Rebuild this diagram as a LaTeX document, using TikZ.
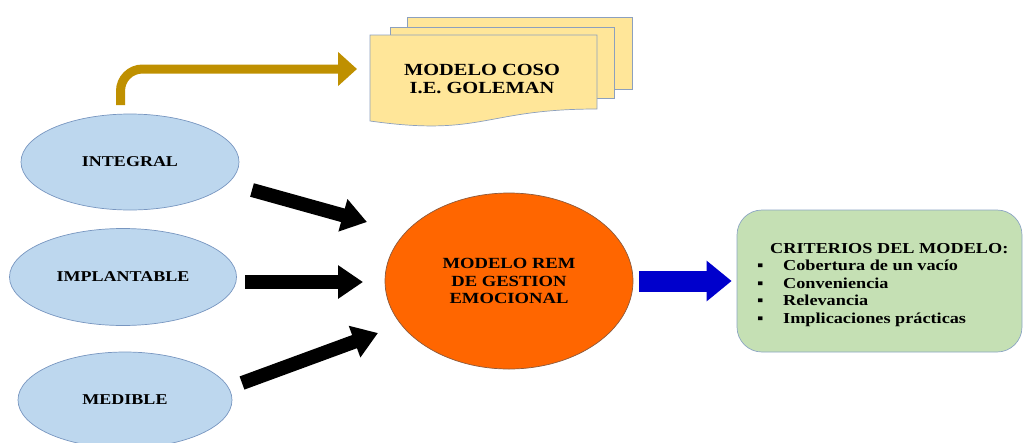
\documentclass[tikz,border=0pt]{standalone}
\usepackage{fontspec}
\setmainfont{Liberation Serif}[FakeStretch=1.2]
\usetikzlibrary{shapes.geometric,arrows.meta}

\definecolor{ovalfill}{RGB}{189,215,238}
\definecolor{ovalline}{RGB}{120,150,192}
\definecolor{remfill}{RGB}{255,102,0}
\definecolor{remline}{RGB}{140,90,60}
\definecolor{docfill}{RGB}{255,230,153}
\definecolor{docline}{RGB}{140,160,190}
\definecolor{critfill}{RGB}{197,224,180}
\definecolor{critline}{RGB}{140,165,195}
\definecolor{goldarrow}{RGB}{191,144,0}
\definecolor{bluearrow}{RGB}{0,0,204}

\begin{document}
\begin{tikzpicture}[x=1pt,y=-1pt,
  oval/.style={ellipse, draw=ovalline, fill=ovalfill, line width=0.7pt,
    inner sep=0pt, font=\fontsize{15}{17}\selectfont\bfseries},
  removal/.style={ellipse, draw=remline, fill=remfill, line width=0.7pt,
    inner sep=0pt, align=center, font=\fontsize{15.5}{17.5}\selectfont\bfseries},
  docsheet/.style={draw=docline, fill=docfill, line width=0.7pt},
  critbox/.style={rectangle, rounded corners=25pt, draw=critline, fill=critfill,
    line width=0.7pt, inner sep=0pt},
  fatblack/.style={draw=black, line width=14pt, -{Triangle[length=25pt,width=32pt]}},
  fatblue/.style={draw=bluearrow, line width=21pt, -{Triangle[length=25pt,width=39pt]}},
  fatgold/.style={draw=goldarrow, line width=9pt, rounded corners=22pt,
    -{Triangle[length=19pt,width=33pt]}}
]
\useasboundingbox (0,0) rectangle (1024,442);
\clip (0,0) rectangle (1024,442);

% the three qualities of the model
\node[oval, minimum width=218pt, minimum height=96pt] (integral) at (130,162) {INTEGRAL};
\node[oval, minimum width=227pt, minimum height=97pt] (implant) at (123,277) {IMPLANTABLE};
\node[oval, minimum width=214pt, minimum height=96pt] (medible) at (125,400) {MEDIBLE};

% central model
\node[removal, minimum width=248pt, minimum height=176pt] (rem) at (509,281)
  {MODELO REM\\DE GESTION\\EMOCIONAL};

% stacked documents (back to front)
\path[docsheet] (407,17) rectangle (632,89);
\path[docsheet] (390,27) rectangle (614,98);
\path[docsheet] (370,35) -- (597,35) -- (597,109)
  .. controls (483.5,109) and (483.5,137) .. (370,121) -- cycle;
\node[align=center, font=\fontsize{17}{18}\selectfont\bfseries] (coso) at (482,79)
  {MODELO COSO\\I.E. GOLEMAN};

% criteria box
\node[critbox, minimum width=285pt, minimum height=142pt] (crit) at (879.5,281) {};
\node[anchor=north west, inner sep=0pt, font=\fontsize{15.2}{17.5}\selectfont\bfseries]
  (crittext) at (757,241) {%
  \begin{tabular}{@{}p{26pt}@{}l@{}}
  \multicolumn{2}{@{}l@{}}{\hspace{13pt}CRITERIOS DEL MODELO:}\\
  ▪ & Cobertura de un vacío\\
  ▪ & Conveniencia\\
  ▪ & Relevancia\\
  ▪ & Implicaciones prácticas
  \end{tabular}};

% arrow ends
\coordinate (g0) at (120.5,105);
\coordinate (g1) at (357,69);
\coordinate (a1s) at (252,190);
\coordinate (a1e) at (367,222);
\coordinate (a2s) at (245,282);
\coordinate (a2e) at (363,282);
\coordinate (a3s) at (242,383);
\coordinate (a3e) at (378,333);

% connectors
\draw[fatgold] (g0) |- (g1);
\draw[fatblack] (a1s) -- (a1e);
\draw[fatblack] (a2s) -- (a2e);
\draw[fatblack] (a3s) -- (a3e);
\draw[fatblue] ([xshift=6pt]rem.east) -- ([xshift=-5pt]crit.west);
\end{tikzpicture}
\end{document}
